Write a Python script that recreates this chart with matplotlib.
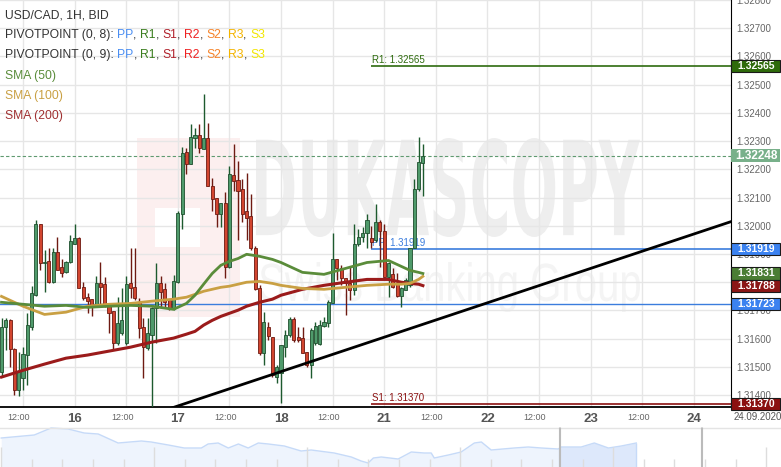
import matplotlib
matplotlib.use("Agg")
import matplotlib.pyplot as plt
import matplotlib.transforms as mtransforms
from matplotlib.patches import Rectangle, PathPatch
from matplotlib.textpath import TextPath
from matplotlib.font_manager import FontProperties
import numpy as np

plt.rcParams['font.family'] = ['Liberation Sans', 'DejaVu Sans']

# ---------------------------------------------------------------------------
# data: USD/CAD hourly candles, t = hours after 15.09 12:00 (weekend removed)
# ---------------------------------------------------------------------------
T_FIRST = -5
OPEN = [1.31482, 1.31641, 1.31665, 1.31563, 1.31418, 1.31460, 1.31542, 1.31641, 1.31754, 1.32008,
        1.31867, 1.31874, 1.31800, 1.31906, 1.31853, 1.31835, 1.31870, 1.31937, 1.31955, 1.31782,
        1.31747, 1.31740, 1.31715, 1.31796, 1.31793, 1.31722, 1.31697, 1.31584, 1.31619, 1.31584,
        1.31796, 1.31782, 1.31729, 1.31641, 1.31566, 1.31612, 1.31708, 1.31796, 1.31775, 1.31736,
        1.31704, 1.31800, 1.32043, 1.32263, 1.32220, 1.32312, 1.32323, 1.32273, 1.32312, 1.32142,
        1.32100, 1.32043, 1.32082, 1.31853, 1.32181, 1.32164, 1.32132, 1.32051, 1.32036, 1.31923,
        1.31778, 1.31549, 1.31641, 1.31605, 1.31464, 1.31478, 1.31570, 1.31612, 1.31669, 1.31605,
        1.31602, 1.31552, 1.31506, 1.31584, 1.31580, 1.31644, 1.31655, 1.31725, 1.31881, 1.31849,
        1.31814, 1.31796, 1.31771, 1.31934, 1.31959, 1.31973, 1.31955, 1.31948, 1.32015, 1.31983,
        1.31817, 1.31828, 1.31793, 1.31750, 1.31771, 1.31789, 1.31923, 1.32132, 1.32224]
HIGH = [1.31672, 1.31672, 1.31669, 1.31566, 1.31552, 1.31570, 1.31690, 1.31786, 1.32022, 1.32008,
        1.31913, 1.31923, 1.31920, 1.31959, 1.31884, 1.31874, 1.31966, 1.32005, 1.31959, 1.31800,
        1.31761, 1.31740, 1.31821, 1.31870, 1.31817, 1.31722, 1.31697, 1.31747, 1.31778, 1.31821,
        1.31923, 1.31923, 1.31743, 1.31672, 1.31672, 1.31711, 1.31867, 1.31821, 1.31796, 1.31736,
        1.31824, 1.32051, 1.32280, 1.32277, 1.32361, 1.32347, 1.32361, 1.32467, 1.32365, 1.32171,
        1.32100, 1.32082, 1.32118, 1.32213, 1.32291, 1.32231, 1.32167, 1.32188, 1.32114, 1.31930,
        1.31789, 1.31694, 1.31658, 1.31605, 1.31506, 1.31577, 1.31630, 1.31676, 1.31676, 1.31641,
        1.31641, 1.31552, 1.31637, 1.31658, 1.31665, 1.31676, 1.31736, 1.31973, 1.31884, 1.31860,
        1.31814, 1.31853, 1.32008, 1.31990, 1.31994, 1.32043, 1.32001, 1.32079, 1.32022, 1.32008,
        1.31870, 1.31849, 1.31831, 1.31782, 1.31814, 1.31923, 1.32167, 1.32316, 1.32291]
LOW = [1.31464, 1.31559, 1.31499, 1.31400, 1.31397, 1.31418, 1.31436, 1.31630, 1.31750, 1.31842,
       1.31764, 1.31796, 1.31796, 1.31842, 1.31817, 1.31831, 1.31867, 1.31937, 1.31778, 1.31736,
       1.31690, 1.31679, 1.31711, 1.31718, 1.31711, 1.31619, 1.31559, 1.31577, 1.31612, 1.31577,
       1.31743, 1.31736, 1.31602, 1.31460, 1.31559, 1.31330, 1.31584, 1.31708, 1.31711, 1.31701,
       1.31701, 1.31796, 1.31990, 1.32185, 1.32220, 1.32277, 1.32259, 1.32273, 1.32142, 1.32054,
       1.31994, 1.31994, 1.31814, 1.31849, 1.32125, 1.31948, 1.32015, 1.31948, 1.31913, 1.31771,
       1.31542, 1.31506, 1.31595, 1.31464, 1.31443, 1.31372, 1.31535, 1.31605, 1.31588, 1.31588,
       1.31549, 1.31499, 1.31460, 1.31577, 1.31577, 1.31641, 1.31641, 1.31725, 1.31807, 1.31789,
       1.31683, 1.31736, 1.31754, 1.31930, 1.31941, 1.31923, 1.31920, 1.31941, 1.31853, 1.31817,
       1.31747, 1.31778, 1.31747, 1.31711, 1.31771, 1.31782, 1.31920, 1.32125, 1.32107]
CLOSE = [1.31641, 1.31665, 1.31563, 1.31418, 1.31482, 1.31545, 1.31648, 1.31761, 1.32008, 1.31867,
         1.31870, 1.31800, 1.31906, 1.31845, 1.31831, 1.31870, 1.31945, 1.31955, 1.31778, 1.31743,
         1.31733, 1.31715, 1.31796, 1.31782, 1.31715, 1.31690, 1.31584, 1.31655, 1.31665, 1.31793,
         1.31778, 1.31743, 1.31637, 1.31570, 1.31619, 1.31708, 1.31796, 1.31764, 1.31729, 1.31708,
         1.31803, 1.32047, 1.32259, 1.32220, 1.32316, 1.32323, 1.32277, 1.32312, 1.32142, 1.32096,
         1.32043, 1.32082, 1.31853, 1.32185, 1.32157, 1.32125, 1.32043, 1.32026, 1.31923, 1.31775,
         1.31549, 1.31658, 1.31609, 1.31471, 1.31499, 1.31577, 1.31612, 1.31669, 1.31595, 1.31595,
         1.31549, 1.31506, 1.31630, 1.31644, 1.31648, 1.31658, 1.31729, 1.31884, 1.31849, 1.31814,
         1.31796, 1.31771, 1.31937, 1.31959, 1.31973, 1.32022, 1.31941, 1.32012, 1.31983, 1.31817,
         1.31867, 1.31782, 1.31750, 1.31778, 1.31807, 1.31923, 1.32132, 1.32227, 1.32248]

# moving averages at these hours
SMA_T = [-5, 0, 5, 10, 15, 20, 25, 30, 35, 38, 40, 42, 44, 46, 48, 50, 52, 55, 58, 60,
         65, 70, 75, 80, 85, 88, 90, 92, 93]
SMA50 = [1.31729, 1.31722, 1.31715, 1.31718, 1.31711, 1.31715, 1.31718, 1.31715, 1.31704, 1.31725,
         1.31754, 1.31793, 1.31831, 1.31860, 1.31874, 1.31884, 1.31899, 1.31892, 1.31881, 1.31870,
         1.31835, 1.31828, 1.31849, 1.31870, 1.31877, 1.31856, 1.31842, 1.31835, 1.31831]
SMA100 = [1.31750, 1.31715, 1.31686, 1.31694, 1.31715, 1.31722, 1.31725, 1.31733, 1.31740, 1.31747,
          1.31757, 1.31768, 1.31775, 1.31782, 1.31786, 1.31793, 1.31800, 1.31803, 1.31796, 1.31789,
          1.31778, 1.31775, 1.31782, 1.31789, 1.31793, 1.31793, 1.31796, 1.31810, 1.31821]
SMA200 = [1.31464, 1.31488, 1.31510, 1.31531, 1.31542, 1.31556, 1.31570, 1.31588, 1.31602, 1.31616,
          1.31626, 1.31648, 1.31665, 1.31679, 1.31690, 1.31701, 1.31715, 1.31729, 1.31740, 1.31754,
          1.31775, 1.31789, 1.31800, 1.31810, 1.31810, 1.31800, 1.31796, 1.31793, 1.31788]

# pivot levels of the current session and the older PP line
PIVOT_START = 81
R1, PP, S1 = 1.32565, 1.31919, 1.31370
OLD_PP = 1.31723
LAST_PRICE = 1.32248

# trend line anchors (hour, price)
TREND_T = [34.7, 164.7]
TREND_P = [1.31355, 1.32015]

X_TICKS = [0, 12, 24, 36, 48, 60, 72, 84, 96, 108, 120, 132, 144, 156]
X_LABELS = ['12:00', '16', '12:00', '17', '12:00', '18', '12:00', '21', '12:00', '22',
            '12:00', '23', '12:00', '24']
Y_TICKS = [1.314, 1.315, 1.316, 1.317, 1.318, 1.319, 1.320, 1.321, 1.322, 1.323,
           1.324, 1.325, 1.326, 1.327, 1.328]

# navigator overview series
NAV_DAY = [0, 10.8, 16.3, 21.9, 27.1, 31.7, 38.2, 45.8, 49.0, 54.6, 59.8, 65.4, 67.6, 70.9, 74.2,
           77.5, 80.7, 84.0, 87.3, 92.5, 98.0, 101.3, 108.8, 114.4, 117.6, 119.9, 121.6, 124.2,
           129.7, 134.0, 138.2, 140.5, 141.5, 146.1, 150.3, 154.6, 156.9, 160.1, 167.6, 172.2,
           176.5, 182.0, 183.0, 189.5, 193.8, 198.4, 202.6, 207.5]
NAV_LEVEL = [29, 32, 39, 38, 34, 33, 24, 26, 25, 22, 19, 19, 23, 24, 19, 23, 19, 24, 23, 21,
             16, 17, 14, 10, 6, 4, 9, 10, 8, 15, 14, 14, 9, 12, 15, 24, 25, 17, 19, 20,
             19, 18, 20, 20, 24, 19, 21, 24]
NAV_WINDOW = (182.4, 228.8)

W, H = 781, 467
fig = plt.figure(figsize=(W / 100, H / 100), dpi=100)
ax = fig.add_axes([0, (H - 407) / H, 731 / W, 407 / H])
ax.set_xlim(-5.35, 164.65)
ax.set_ylim(1.31358, 1.32796)

# watermark
wm_font = FontProperties(family='Liberation Sans Narrow', weight='bold')
wm2_font = FontProperties(family='Liberation Sans')


def text_block(s, prop, box, color):
    tp = TextPath((0, 0), s, size=1, prop=prop)
    bb = tp.get_extents()
    x0, x1 = box[0] / 731, box[1] / 731
    y0, y1 = (407 - box[3]) / 407, (407 - box[2]) / 407
    tr = (mtransforms.Affine2D().translate(-bb.x0, -bb.y0)
          .scale((x1 - x0) / bb.width, (y1 - y0) / bb.height).translate(x0, y0) + ax.transAxes)
    ax.add_patch(PathPatch(tp, transform=tr, fc=color, ec='none', zorder=0.2))


ax.add_patch(Rectangle((137 / 731, (407 - 317) / 407), 103 / 731, 179 / 407,
                       transform=ax.transAxes, fc='#fcefef', ec='none', zorder=0.1))
ax.add_patch(Rectangle((155 / 731, (407 - 247) / 407), 45 / 731, 39 / 407,
                       transform=ax.transAxes, fc='white', ec='none', zorder=0.15))
text_block('DUKASCOPY', wm_font, (256, 640, 138, 237), '#eeeeee')
text_block('Swiss Banking Group', wm2_font, (260, 640, 262, 312), '#f4f4f4')

ax.set_axisbelow(True)
ax.grid(True, color='#e6e6e6', lw=1)
ax.set_xticks(X_TICKS)
ax.set_xticklabels(X_LABELS)
ax.set_yticks(Y_TICKS)
ax.set_yticklabels([f'{v:.5f}' for v in Y_TICKS])
ax.yaxis.tick_right()
ax.tick_params(axis='y', length=0, pad=4, labelsize=7, labelcolor='#666666')
ax.tick_params(axis='x', length=0, pad=4, labelsize=6.5, labelcolor='#666666')
shift = mtransforms.ScaledTranslation(-4 / 100, 0, fig.dpi_scale_trans)
for lab in ax.get_xticklabels():
    if lab.get_text() == '12:00':
        lab.set_transform(lab.get_transform() + shift)
    else:
        lab.set_fontsize(9.5)
        lab.set_fontweight('bold')
        lab.set_color('#555555')

for side in ['left', 'top']:
    ax.spines[side].set_visible(False)
ax.spines['right'].set_color('black')
ax.spines['bottom'].set_color('black')
ax.spines['bottom'].set_linewidth(1.3)

# horizontal levels
ax.axhline(OLD_PP, color='#3b7ddd', lw=1, zorder=2)
ax.axhline(LAST_PRICE, color='#5f9a70', lw=0.8, ls=(0, (3, 2)), zorder=2)
x_end = ax.get_xlim()[1]
ax.hlines([R1, PP, S1], PIVOT_START, x_end, colors=['#2e6b0e', '#3b7ddd', '#8b1010'],
          lw=1.2, zorder=2)
for lvl, name, col in [(R1, 'R1', '#2e6b0e'), (PP, 'PP', '#3b7ddd'), (S1, 'S1', '#8b1010')]:
    ax.text(PIVOT_START + 0.2, lvl + 0.00003, f'{name}: {lvl:.5f}', color=col, fontsize=7,
            va='bottom', ha='left', zorder=2)

# candles
t = T_FIRST + np.arange(len(OPEN))
o, h, l, c = map(np.array, (OPEN, HIGH, LOW, CLOSE))
up = c >= o
ax.vlines(t[up], l[up], h[up], color='#1d5a2e', lw=1, zorder=3)
ax.vlines(t[~up], l[~up], h[~up], color='#6e1a12', lw=1, zorder=3)
body_lo = np.minimum(o, c)
body_h = np.maximum(np.abs(c - o), 0.00002)
ax.bar(t[up], body_h[up], 0.72, bottom=body_lo[up], color='#4f9a6b', edgecolor='#1f4f2e',
       lw=0.6, zorder=3.5)
ax.bar(t[~up], body_h[~up], 0.72, bottom=body_lo[~up], color='#d2452f', edgecolor='#6e1a12',
       lw=0.6, zorder=3.5)

# moving averages and trend line
ax.plot(SMA_T, SMA200, color='#9b1b1b', lw=2.2, zorder=4)
ax.plot(SMA_T, SMA100, color='#c9a043', lw=2, zorder=4)
ax.plot(SMA_T, SMA50, color='#5a8c3a', lw=2, zorder=4)
ax.plot(TREND_T, TREND_P, color='black', lw=2, zorder=4.5)

# price tags on the right axis
tag_tr = mtransforms.blended_transform_factory(ax.transAxes, ax.transData)


def price_tag(price, fc, ec='#1a1a1a', size=7.5, hgt=0.00043):
    ax.add_patch(Rectangle((1.0, price - hgt / 2), 49 / 731, hgt, transform=tag_tr, fc=fc,
                           ec=ec, lw=0.8, clip_on=False, zorder=6))
    ax.text(1.0 + 25 / 731, price, f'{price:.5f}', transform=tag_tr, ha='center', va='center',
            color='white', fontsize=size, fontweight='bold', zorder=7, clip_on=False)


price_tag(R1, '#2f6b0b')
price_tag(LAST_PRICE, '#78b08a', ec='none', size=8.5, hgt=0.00047)
price_tag(PP, '#3b82f0')
price_tag(SMA50[-1], '#4a7d34')
price_tag(SMA200[-1], '#8b1616')
price_tag(OLD_PP, '#3b82f0')
price_tag(S1, '#8b1010')

fig.text(758 / W, 1 - 417 / H, '24.09.2020', fontsize=7, color='#555555', ha='center',
         va='center')

# legend block, top left
FS = 8.7


def legend_line(y_px, parts):
    txt = fig.text(5 / W, 1 - y_px / H, parts[0][0], color=parts[0][1], fontsize=FS,
                   va='center', ha='left')
    for s, col in parts[1:]:
        txt = ax.annotate(s, xy=(1, 0), xycoords=txt, va='bottom', ha='left', color=col,
                          fontsize=FS)


PIV = [('PP', '#4a8ef2'), (', ', '#333333'), ('R1', '#3a7d1e'), (', ', '#333333'),
       ('S1', '#b0202a'), (', ', '#333333'), ('R2', '#ee2222'), (', ', '#333333'),
       ('S2', '#f5832a'), (', ', '#333333'), ('R3', '#f4b400'), (', ', '#333333'),
       ('S3', '#f2e600')]
legend_line(15, [('USD/CAD, 1H, BID', '#333333')])
legend_line(35, [('PIVOTPOINT (0, 8): ', '#333333')] + PIV)
legend_line(55, [('PIVOTPOINT (0, 9): ', '#333333')] + PIV)
legend_line(76, [('SMA (50)', '#5a8c3a')])
legend_line(96, [('SMA (100)', '#c9a043')])
legend_line(116, [('SMA (200)', '#a03030')])

# navigator
nav = fig.add_axes([0, 0, 1, 40 / H])
nav.set_xlim(-0.4, 254.8)
nav.set_ylim(0, 40)
nav.axis('off')
nav.fill_between(NAV_DAY, NAV_LEVEL, 0, color='#eef4fd', lw=0)
nav.plot(NAV_DAY, NAV_LEVEL, color='#c6daf8', lw=1)
sel = [i for i, d in enumerate(NAV_DAY) if d >= NAV_WINDOW[0] - 0.5]
nav.fill_between([NAV_DAY[i] for i in sel], [NAV_LEVEL[i] for i in sel], 0, color='#dde8fb',
                 lw=0)
nav.vlines(NAV_DAY[-1], 0, NAV_LEVEL[-1], color='#c6daf8', lw=1)
for k in range(0, 260, 10):
    top = 20 if k % 50 == 0 else 8
    nav.vlines(k, 0, top, color='#dddddd', lw=1)
nav.axhline(39.5, color='#e4e4e4', lw=1)
for xw in NAV_WINDOW:
    nav.vlines([xw - 0.25, xw + 0.25], 0, 40, color='#bbbbbb', lw=0.8)

fig.savefig('out.png', dpi=100)
